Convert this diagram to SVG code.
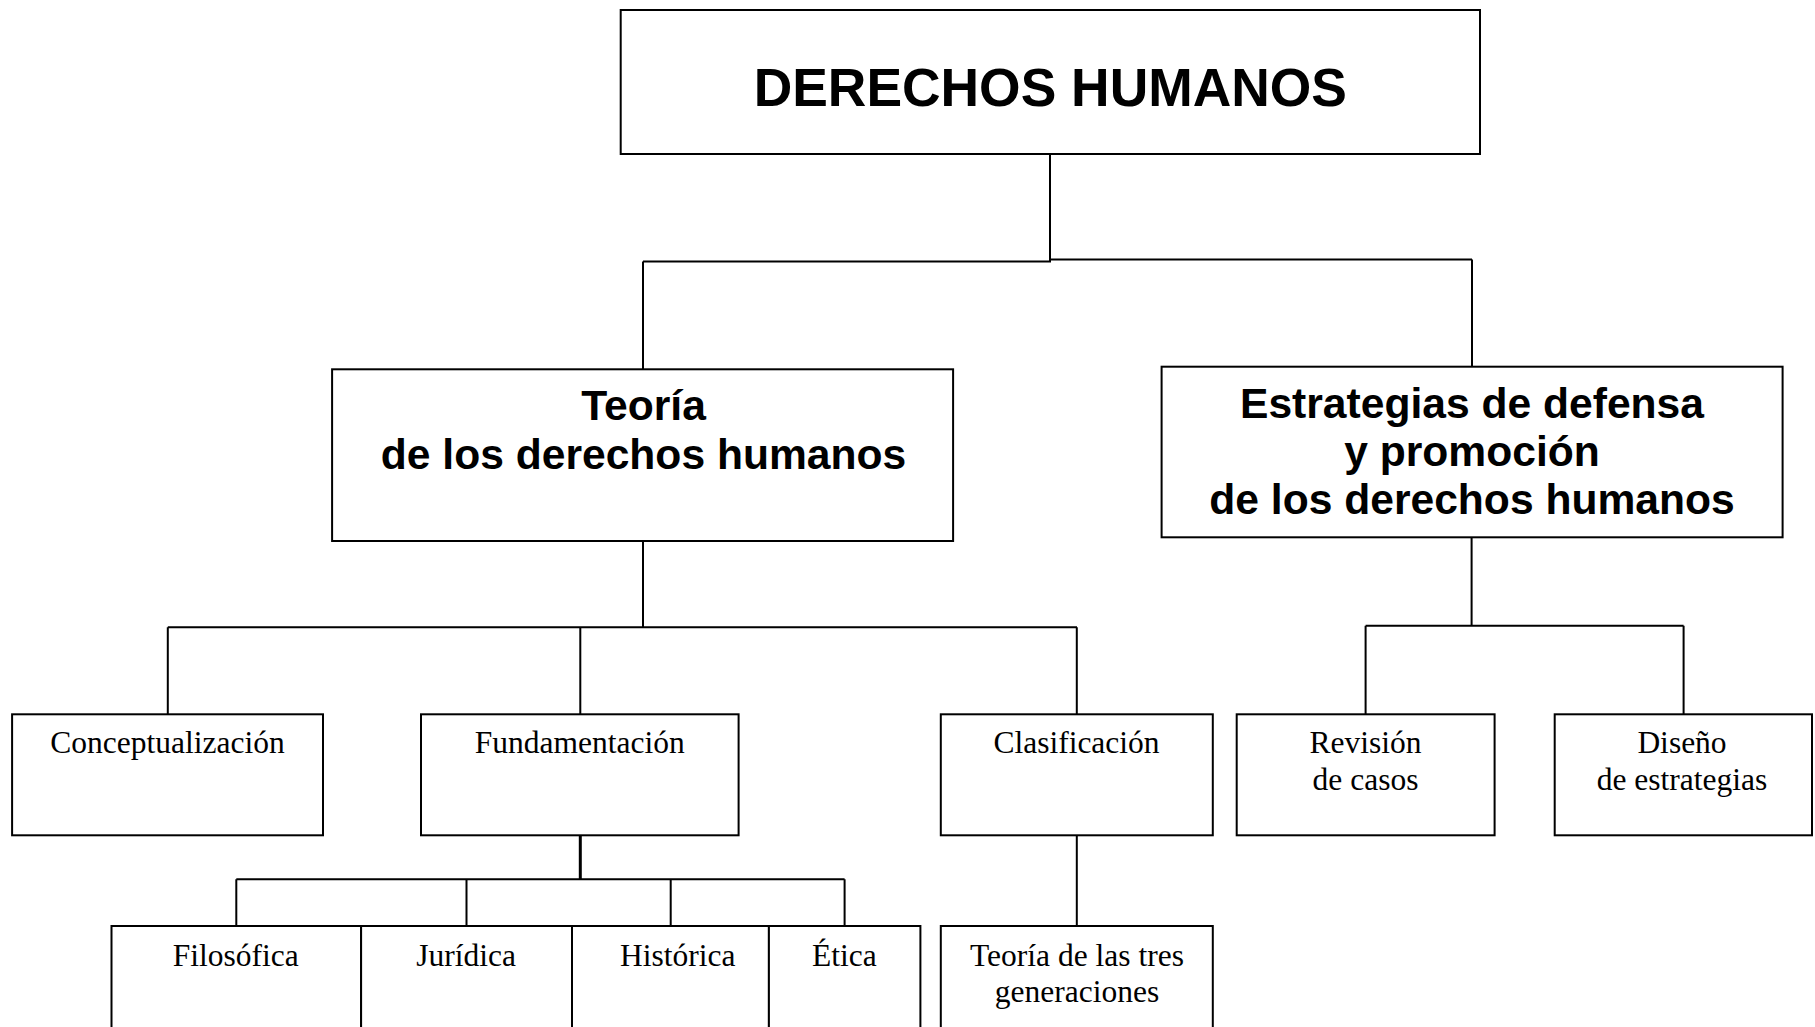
<svg xmlns="http://www.w3.org/2000/svg" width="1815" height="1027" viewBox="0 0 1815 1027">
<style>
.box{fill:#fff;stroke:#000;stroke-width:2}
.ln{fill:none;stroke:#000;stroke-width:2}
.h1{font-family:"Liberation Sans",Arial,sans-serif;font-weight:bold;font-size:53.4px;text-anchor:middle;fill:#000}
.h2{font-family:"Liberation Sans",Arial,sans-serif;font-weight:bold;font-size:42.6px;text-anchor:middle;fill:#000}
.t{font-family:"Liberation Serif","Times New Roman",serif;font-size:31.5px;text-anchor:middle;fill:#000}
</style>
<rect width="1815" height="1027" fill="#fff"/>
<g id="connectors">
<path class="ln" d="M1050,154 V261.5 M643,261.5 H1051 M1050,259.5 H1472 M643,261.5 V369.3 M1472,259.5 V366.7"/>
<path class="ln" d="M643,541 V627 M167.8,627.3 H1077 M167.8,627.3 V714.3 M580.3,627.3 V714.3 M1076.8,627.3 V714.3"/>
<path class="ln" d="M1471.6,537.3 V626 M1365.6,625.7 H1683.6 M1365.6,625.7 V714.3 M1683.6,625.7 V714.3"/>
<path class="ln" d="M580.3,835.3 V879.3" style="stroke-width:3"/>
<path class="ln" d="M236.3,879.3 H844.6 M236.3,879.3 V926 M466.5,879.3 V926 M670.7,879.3 V926 M844.6,879.3 V926"/>
<path class="ln" d="M1076.8,835.3 V926"/>
</g>
<g id="n-derechos">
<rect class="box" x="620.7" y="10" width="859.3" height="144"/>
<text class="h1" x="1050.3" y="106">DERECHOS HUMANOS</text>
</g>
<g id="n-teoria">
<rect class="box" x="332.1" y="369.3" width="621" height="171.7"/>
<text class="h2" x="643.5" y="420">Teoría</text>
<text class="h2" x="643.5" y="469">de los derechos humanos</text>
</g>
<g id="n-estrategias">
<rect class="box" x="1161.6" y="366.7" width="621" height="170.6"/>
<text class="h2" x="1472" y="417.5">Estrategias de defensa</text>
<text class="h2" x="1472" y="465.5">y promoción</text>
<text class="h2" x="1472" y="513.5">de los derechos humanos</text>
</g>
<g id="n-conceptualizacion">
<rect class="box" x="12.1" y="714.3" width="310.9" height="121"/>
<text class="t" x="167.5" y="753.3">Conceptualización</text>
</g>
<g id="n-fundamentacion">
<rect class="box" x="421" y="714.3" width="317.6" height="121"/>
<text class="t" x="579.8" y="753.3">Fundamentación</text>
</g>
<g id="n-clasificacion">
<rect class="box" x="940.8" y="714.3" width="272" height="121"/>
<text class="t" x="1076.5" y="753.3">Clasificación</text>
</g>
<g id="n-revision">
<rect class="box" x="1236.7" y="714.3" width="257.9" height="121"/>
<text class="t" x="1365.5" y="753.3">Revisión</text>
<text class="t" x="1365.5" y="790">de casos</text>
</g>
<g id="n-diseno">
<rect class="box" x="1554.7" y="714.3" width="257.3" height="121"/>
<text class="t" x="1682" y="753.3">Diseño</text>
<text class="t" x="1682" y="790">de estrategias</text>
</g>
<g id="n-filosofica">
<rect class="box" x="111.5" y="926" width="249.6" height="130"/>
<text class="t" x="235.7" y="965.5">Filosófica</text>
</g>
<g id="n-juridica">
<rect class="box" x="361.1" y="926" width="210.9" height="130"/>
<text class="t" x="466.2" y="965.5">Jurídica</text>
</g>
<g id="n-historica">
<rect class="box" x="572" y="926" width="196.9" height="130"/>
<text class="t" x="677.7" y="965.5">Histórica</text>
</g>
<g id="n-etica">
<rect class="box" x="768.9" y="926" width="151.5" height="130"/>
<text class="t" x="844.3" y="965.5">Ética</text>
</g>
<g id="n-tres-generaciones">
<rect class="box" x="940.8" y="926" width="272" height="130"/>
<text class="t" x="1077" y="965.5">Teoría de las tres</text>
<text class="t" x="1077" y="1002">generaciones</text>
</g>
</svg>
